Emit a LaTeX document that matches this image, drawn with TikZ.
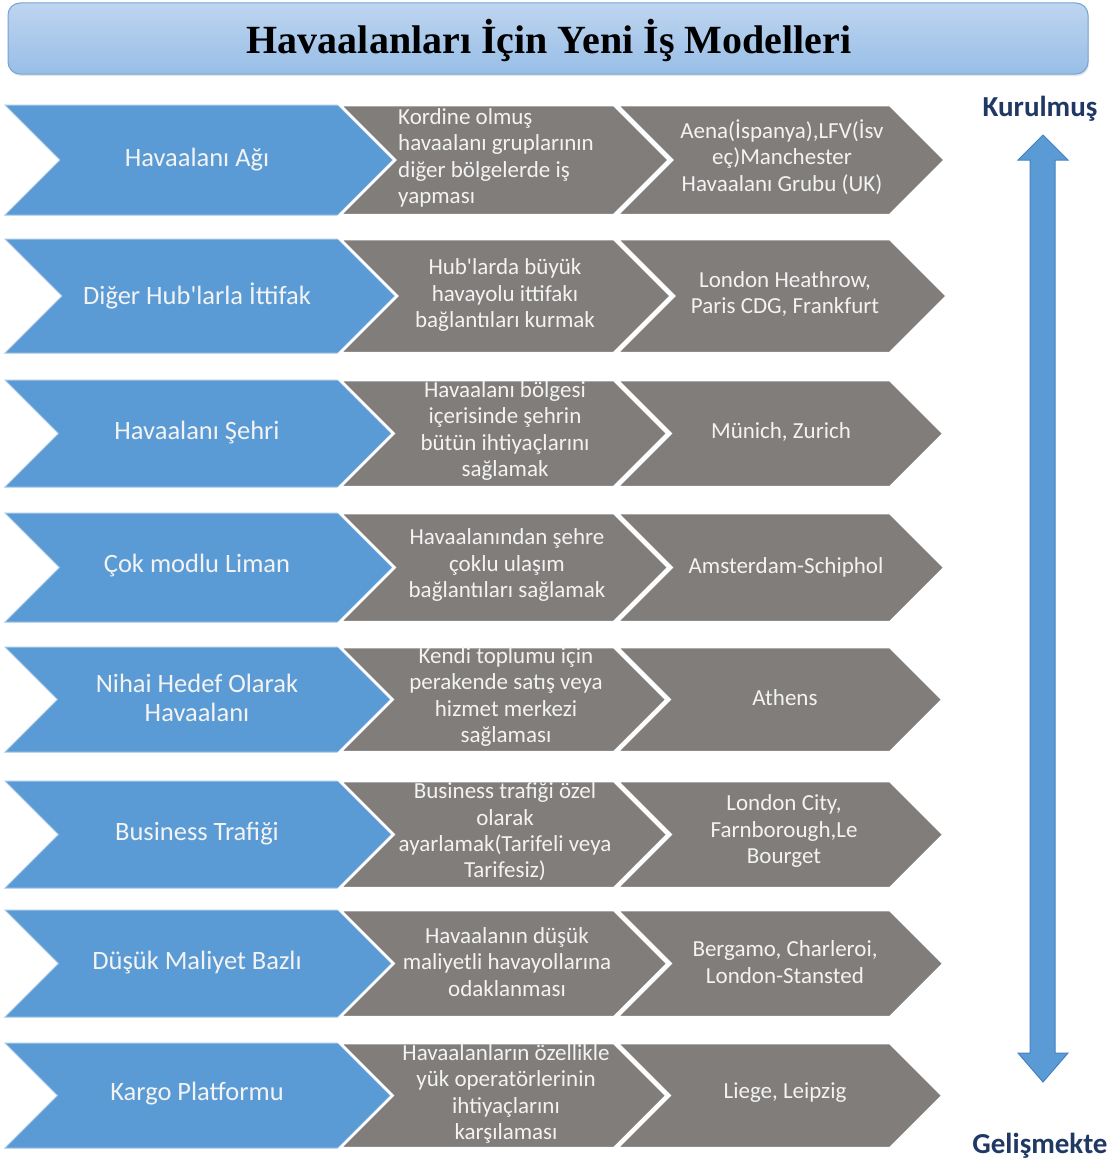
\documentclass[tikz,border=0pt]{standalone}
\usepackage{fontspec}
\setmainfont{Carlito}[Ligatures=TeXOff]
\newfontfamily\titlefont{Liberation Serif}
\usetikzlibrary{shadows}

\definecolor{chevblue}{RGB}{91,155,213}
\definecolor{chevgray}{RGB}{128,125,123}
\definecolor{labeltxt}{RGB}{243,243,243}
\definecolor{darkblue}{RGB}{31,56,100}
\definecolor{titletop}{RGB}{190,213,239}
\definecolor{titlebot}{RGB}{152,190,231}
\definecolor{titleedge}{RGB}{118,163,214}
\definecolor{arrowedge}{RGB}{70,130,195}

% chevron: style, left x, right x, top y, bottom y
\newcommand\chevron[5]{%
  \pgfmathsetmacro\chvd{(#5-#4)/2}%
  \pgfmathsetmacro\chvm{(#5+#4)/2}%
  \path[#1] (#2,#4) -- (#3,#4) -- ({#3+\chvd},\chvm) -- (#3,#5) -- (#2,#5) -- ({#2+\chvd},\chvm) -- cycle;
}

\tikzset{
  blueshape/.style={fill=chevblue, draw=chevblue!55!white, line width=1},
  grayshape/.style={fill=chevgray, draw=white, line width=2.5, line join=miter},
  modeltext/.style={text=labeltxt, align=center, font=\fontsize{26.5}{29}\selectfont},
  desctext/.style={text=labeltxt, align=center, font=\fontsize{23}{26.3}\selectfont, inner sep=0},
  poletext/.style={text=darkblue, font=\fontsize{29}{32}\selectfont\bfseries},
}

\begin{document}
\begin{tikzpicture}[x=1pt, y=-1pt]
\useasboundingbox (0,0) rectangle (1117,1164);
\fill[white] (0,0) rectangle (1117,1164);

% title banner
\path[rounded corners=12, top color=titletop, bottom color=titlebot, draw=titleedge, line width=1,
      drop shadow={opacity=0.2, shadow xshift=1pt, shadow yshift=-2pt}]
  (8,3) rectangle (1088,74);
\node (title) at (549,40) {\titlefont\fontsize{40}{44}\selectfont\bfseries Havaalanları İçin Yeni İş Modelleri};

% rows of chevrons
\foreach \yt/\yb in {105/215, 239/353, 380/487, 513/622, 647/752, 781/888, 910/1017, 1043/1148}{
  \chevron{blueshape}{5}{338}{\yt}{\yb}
  \chevron{grayshape}{340}{614}{\yt}{\yb}
  \chevron{grayshape}{617}{890}{\yt}{\yb}
}

% row 1
\node[modeltext] (m1) at (197,160) {Havaalanı Ağı};
\node[desctext, align=left, anchor=west] (d1) at (398,158) {Kordine olmuş\\havaalanı gruplarının\\diğer bölgelerde iş\\yapması};
\node[desctext] (e1) at (782,157) {Aena(İspanya),LFV(İsv\\eç)Manchester\\Havaalanı Grubu (UK)};

% row 2
\node[modeltext] (m2) at (197,296) {Diğer Hub'larla İttifak};
\node[desctext] (d2) at (505,295) {Hub'larda büyük\\havayolu ittifakı\\bağlantıları kurmak};
\node[desctext] (e2) at (785,294) {London Heathrow,\\Paris CDG, Frankfurt};

% row 3
\node[modeltext] (m3) at (197,433) {Havaalanı Şehri};
\node[desctext] (d3) at (505,431) {Havaalanı bölgesi\\içerisinde şehrin\\bütün ihtiyaçlarını\\sağlamak};
\node[desctext] (e3) at (781,432) {Münich, Zurich};

% row 4
\node[modeltext] (m4) at (197,566) {Çok modlu Liman};
\node[desctext] (d4) at (507,565) {Havaalanından şehre\\çoklu ulaşım\\bağlantıları sağlamak};
\node[desctext] (e4) at (786,567) {Amsterdam-Schiphol};

% row 5
\node[modeltext] (m5) at (197,698) {Nihai Hedef Olarak\\Havaalanı};
\node[desctext] (d5) at (506,697) {Kendi toplumu için\\perakende satış veya\\hizmet merkezi\\sağlaması};
\node[desctext] (e5) at (785,698) {Athens};

% row 6
\node[modeltext] (m6) at (197,834) {Business Trafiği};
\node[desctext] (d6) at (505,832) {Business trafiği özel\\olarak\\ayarlamak(Tarifeli veya\\Tarifesiz)};
\node[desctext] (e6) at (784,831) {London City,\\Farnborough,Le\\Bourget};

% row 7
\node[modeltext] (m7) at (197,963) {Düşük Maliyet Bazlı};
\node[desctext] (d7) at (507,962) {Havaalanın düşük\\maliyetli havayollarına\\odaklanması};
\node[desctext] (e7) at (785,962) {Bergamo, Charleroi,\\London-Stansted};

% row 8
\node[modeltext] (m8) at (197,1094) {Kargo Platformu};
\node[desctext] (d8) at (506,1094) {Havaalanların özellikle\\yük operatörlerinin\\ihtiyaçlarını\\karşılaması};
\node[desctext] (e8) at (785,1093) {Liege, Leipzig};

% maturity scale on the right
\node[poletext] (top) at (1040,109) {Kurulmuş};
\node[poletext] (bottom) at (1040,1146) {Gelişmekte};
\path[fill=chevblue, draw=arrowedge, line width=1]
  (1043,135) -- (1068,160) -- (1055,160) -- (1055,1053) -- (1068,1053) -- (1043,1082)
  -- (1018,1053) -- (1030,1053) -- (1030,160) -- (1018,160) -- cycle;
\end{tikzpicture}
\end{document}
